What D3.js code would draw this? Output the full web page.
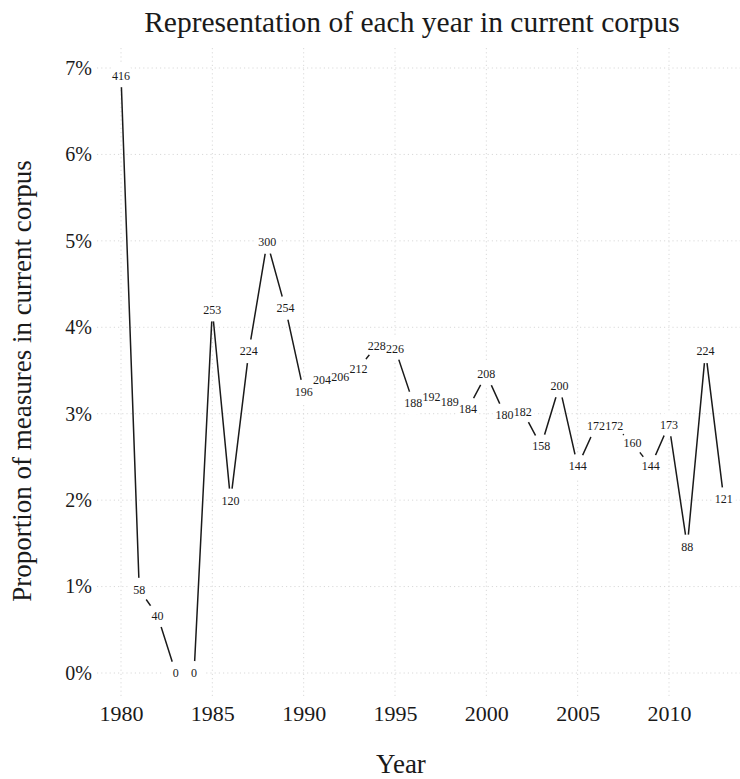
<!DOCTYPE html>
<html>
<head>
    <meta charset="utf-8">
    <title>Representation of each year in current corpus</title>
    <script src="https://cdn.jsdelivr.net/npm/d3@7"></script>
    <style>
        body {
            margin: 0;
            background: white;
        }

        svg text {
            font-family: "Liberation Serif", "DejaVu Serif", serif;
            fill: #1a1a1a;
        }

        .grid line {
            stroke: #d9d9d9;
            stroke-width: 1;
            stroke-dasharray: 1.2 3;
        }
    </style>
</head>
<body>
    <svg id="chart" width="740" height="779"></svg>
    <script>
        // data: number of measures per year
        const years = [1980, 1981, 1982, 1983, 1984, 1985, 1986, 1987, 1988, 1989,
            1990, 1991, 1992, 1993, 1994, 1995, 1996, 1997, 1998, 1999,
            2000, 2001, 2002, 2003, 2004, 2005, 2006, 2007, 2008, 2009,
            2010, 2011, 2012, 2013];
        const counts = [416, 58, 40, 0, 0, 253, 120, 224, 300, 254,
            196, 204, 206, 212, 228, 226, 188, 192, 189, 184,
            208, 180, 182, 158, 200, 144, 172, 172, 160, 144,
            173, 88, 224, 121];
        const xTicks = [1980, 1985, 1990, 1995, 2000, 2005, 2010];
        const yTicks = [0, 0.01, 0.02, 0.03, 0.04, 0.05, 0.06, 0.07];

        const total = d3.sum(counts);
        const data = years.map((y, i) => ({ year: y, n: counts[i], share: counts[i] / total }));

        const svg = d3.select("#chart");

        // panel box
        const panel = { left: 97, right: 740, top: 48, bottom: 697 };

        const x = d3.scaleLinear().domain([1980, 2010]).range([121, 669]);
        const y = d3.scaleLinear().domain([0, 0.07]).range([673, 68]);

        // grid
        const grid = svg.append("g").attr("class", "grid");
        grid.selectAll(".gy")
            .data(yTicks)
            .enter()
            .append("line")
            .attr("x1", panel.left).attr("x2", panel.right)
            .attr("y1", d => y(d)).attr("y2", d => y(d));
        grid.selectAll(".gx")
            .data(xTicks)
            .enter()
            .append("line")
            .attr("x1", d => x(d)).attr("x2", d => x(d))
            .attr("y1", panel.top).attr("y2", panel.bottom);

        // axes (no lines, just labels)
        const yAxis = svg.append("g")
            .attr("transform", `translate(${panel.left},0)`)
            .call(d3.axisLeft(y).tickValues(yTicks).tickFormat(d3.format(".0%")).tickSize(0).tickPadding(5));
        yAxis.select(".domain").remove();
        yAxis.selectAll("text").style("font-size", "20px");

        const xAxis = svg.append("g")
            .attr("transform", `translate(0,${panel.bottom})`)
            .call(d3.axisBottom(x).tickValues(xTicks).tickFormat(d3.format("d")).tickSize(0).tickPadding(8));
        xAxis.select(".domain").remove();
        xAxis.selectAll("text").style("font-size", "22px");

        // line
        const line = d3.line()
            .x(d => x(d.year))
            .y(d => y(d.share));

        svg.append("path")
            .datum(data)
            .attr("fill", "none")
            .attr("stroke", "#1a1a1a")
            .attr("stroke-width", 1.5)
            .attr("d", line);

        // white blobs behind labels so the line breaks around them
        svg.selectAll(".blob")
            .data(data)
            .enter()
            .append("circle")
            .attr("cx", d => x(d.year))
            .attr("cy", d => y(d.share))
            .attr("r", 12)
            .attr("fill", "white");

        svg.selectAll(".lbl")
            .data(data)
            .enter()
            .append("text")
            .attr("x", d => x(d.year))
            .attr("y", d => y(d.share))
            .attr("dy", "0.35em")
            .attr("text-anchor", "middle")
            .style("font-size", "12px")
            .text(d => d.n);

        // titles
        svg.append("text")
            .attr("x", 412)
            .attr("y", 32)
            .attr("text-anchor", "middle")
            .style("font-size", "29.5px")
            .text("Representation of each year in current corpus");

        svg.append("text")
            .attr("x", 401)
            .attr("y", 773)
            .attr("text-anchor", "middle")
            .style("font-size", "27px")
            .text("Year");

        svg.append("text")
            .attr("transform", "translate(31,381) rotate(-90)")
            .attr("text-anchor", "middle")
            .style("font-size", "27px")
            .text("Proportion of measures in current corpus");
    </script>
</body>
</html>
